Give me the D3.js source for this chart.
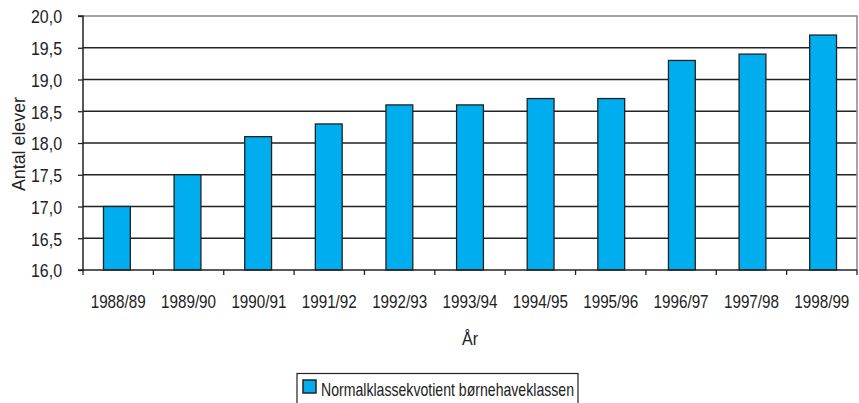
<!DOCTYPE html>
<html><head><meta charset="utf-8">
<script src="https://cdn.jsdelivr.net/npm/d3@7"></script>
<style>
body{margin:0;background:#fff;}
svg{display:block;}
text{font-family:"Liberation Sans",Arial,sans-serif;fill:#222;}
</style></head>
<body>
<svg id="c" width="859" height="403"></svg>
<script>
const categories = ["1988/89","1989/90","1990/91","1991/92","1992/93","1993/94","1994/95","1995/96","1996/97","1997/98","1998/99"];
const values = [17.0,17.5,18.1,18.3,18.6,18.6,18.7,18.7,19.3,19.4,19.7];
const yTicks = [16.0,16.5,17.0,17.5,18.0,18.5,19.0,19.5,20.0];
const seriesName = "Normalklassekvotient børnehaveklassen";
const xTitle = "År";
const yTitle = "Antal elever";

const svg = d3.select("#c");
const L=83, R=857, T=16, B=270;
const x = d3.scaleBand().domain(categories).range([L,R]).paddingInner(0.62).paddingOuter(0.29);
const xb = d3.scaleBand().domain(categories).range([L,R]);
const y = d3.scaleLinear().domain([16,20]).range([B,T]);
const fmt = d => d.toFixed(1).replace(".",",");

// gridlines
svg.append("g").selectAll("line").data(yTicks.filter(d=>d>16 && d<20)).join("line")
  .attr("x1",L).attr("x2",R).attr("y1",d=>y(d)).attr("y2",d=>y(d))
  .attr("stroke","#222").attr("stroke-width",1.3);
// top and right border (gray)
svg.append("path").attr("d",`M${L},${T}H${R}V${B}`).attr("fill","none").attr("stroke","#888").attr("stroke-width",1.5);

// bars
svg.append("g").selectAll("rect").data(values).join("rect")
  .attr("x",(d,i)=>x(categories[i])).attr("width",x.bandwidth())
  .attr("y",d=>y(d)).attr("height",d=>B-y(d))
  .attr("fill","#00adef").attr("stroke","#222").attr("stroke-width",1.3);

// y axis
const ya = svg.append("g").attr("transform",`translate(${L},0)`)
  .call(d3.axisLeft(y).tickValues(yTicks).tickFormat(fmt).tickSize(5).tickPadding(16));
ya.select(".domain").attr("stroke","#222").attr("stroke-width",1.5).attr("d",`M-5,${T}H0V${B}H-5`);
ya.selectAll(".tick line").attr("stroke","#222").attr("stroke-width",1.3);
ya.selectAll(".tick text").attr("font-size",19).attr("fill","#222").attr("dy","0.36em")
  .style("font-family",'"Liberation Sans",Arial,sans-serif')
  .attr("textLength",31).attr("lengthAdjust","spacingAndGlyphs");

// x axis
const xa = svg.append("g").attr("transform",`translate(0,${B})`);
xa.append("line").attr("x1",L).attr("x2",R).attr("stroke","#222").attr("stroke-width",1.5);
xa.selectAll("line.tk").data(categories.concat(["end"])).join("line").attr("class","tk")
  .attr("x1",(d,i)=>L+i*xb.step()).attr("x2",(d,i)=>L+i*xb.step())
  .attr("y1",0).attr("y2",5).attr("stroke","#222").attr("stroke-width",1.3);
xa.selectAll("text").data(categories).join("text")
  .attr("x",d=>xb(d)+xb.bandwidth()/2).attr("y",38)
  .attr("text-anchor","middle").attr("font-size",19)
  .attr("textLength",55).attr("lengthAdjust","spacingAndGlyphs").text(d=>d);

// titles
svg.append("text").attr("x",470).attr("y",345).attr("text-anchor","middle").attr("font-size",19)
  .attr("textLength",16).attr("lengthAdjust","spacingAndGlyphs").text(xTitle);
svg.append("text").attr("transform","translate(25,144) rotate(-90)").attr("text-anchor","middle").attr("font-size",18)
  .attr("textLength",94).attr("lengthAdjust","spacingAndGlyphs").text(yTitle);

// legend
svg.append("rect").attr("x",297).attr("y",373.5).attr("width",281).attr("height",40).attr("fill","#fff").attr("stroke","#222").attr("stroke-width",1.2);
svg.append("rect").attr("x",303).attr("y",380).attr("width",13).attr("height",13).attr("fill","#00adef").attr("stroke","#222").attr("stroke-width",1.5);
svg.append("text").attr("x",321).attr("y",396).attr("font-size",19)
  .attr("textLength",253).attr("lengthAdjust","spacingAndGlyphs").text(seriesName);
</script>
</body></html>
